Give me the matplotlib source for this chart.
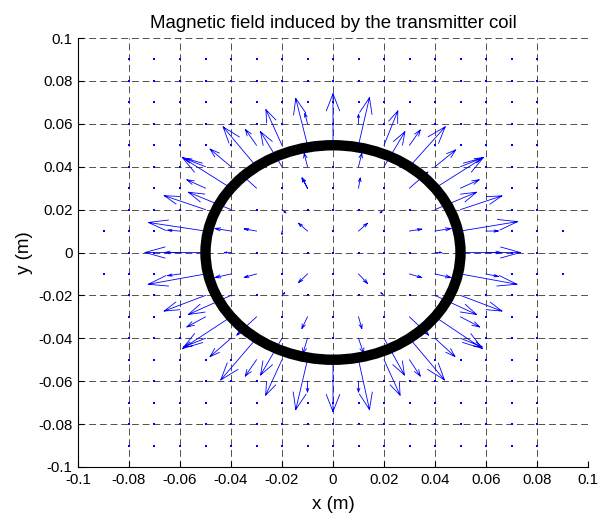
import numpy as np
import matplotlib
matplotlib.use("Agg")
import matplotlib.pyplot as plt
from matplotlib.patches import Circle

plt.rcParams['font.family'] = ['Liberation Sans', 'DejaVu Sans']

# field arrows: grid point and drawn displacement (m)
arrow_x = [0.00, -0.01, -0.01, -0.01, -0.01, -0.02, -0.02, -0.03, -0.03, -0.03,
           -0.04, -0.04, -0.04, -0.04, -0.04, -0.05, -0.05, -0.05, -0.05, -0.05,
           -0.06, -0.06, -0.03, -0.01, -0.01,
           0.01, 0.01, 0.01, 0.01, 0.02, 0.02, 0.03, 0.03, 0.03, 0.03,
           0.04, 0.04, 0.04, 0.04, 0.04, 0.05, 0.05, 0.05, 0.05, 0.05,
           0.06, 0.06, 0.01,
           -0.05, -0.06, -0.04, -0.03, -0.01, -0.04, -0.05, -0.05, -0.04, -0.03,
           -0.01, -0.05, -0.04, -0.03, -0.02, -0.01, -0.03, -0.02, -0.01, 0.00, -0.01,
           0.05, 0.06, 0.04, 0.03, 0.01, 0.04, 0.05, 0.04, 0.05, 0.03,
           0.01, 0.05, 0.03, 0.04, 0.02, 0.01, 0.01, 0.02, 0.03, 0.01,
           -0.02, -0.02, 0.02, -0.02, 0.02]
arrow_y = [0.05, 0.04, 0.05, 0.06, 0.03, 0.05, 0.04, 0.05, 0.03, 0.04,
           0.04, 0.03, 0.02, 0.01, 0.00, 0.03, 0.04, 0.02, 0.01, 0.00,
           0.01, 0.00, 0.01, 0.01, 0.03,
           0.05, 0.04, 0.06, 0.03, 0.04, 0.05, 0.04, 0.05, 0.03, 0.01,
           0.04, 0.03, 0.02, 0.01, 0.00, 0.04, 0.03, 0.02, 0.01, 0.00,
           0.01, 0.00, 0.01,
           -0.01, -0.01, -0.01, -0.01, -0.01, -0.02, -0.02, -0.03, -0.03, -0.03,
           -0.03, -0.04, -0.04, -0.04, -0.04, -0.04, -0.05, -0.05, -0.05, -0.05, -0.06,
           -0.01, -0.01, -0.01, -0.01, -0.01, -0.02, -0.02, -0.03, -0.03, -0.03,
           -0.03, -0.04, -0.04, -0.04, -0.04, -0.04, -0.05, -0.05, -0.05, -0.06,
           0.02, 0.01, 0.02, -0.02, -0.02]
arrow_u = [0.0000, -0.0013, -0.0046, -0.0010, -0.0021, -0.0063, -0.0084, -0.0043, -0.0065, -0.0131,
           -0.0082, -0.0191, -0.0167, -0.0063, -0.0026, -0.0073, -0.0086, -0.0162, -0.0224, -0.0237,
           -0.0048, -0.0059, -0.0048, -0.0035, -0.0021,
           0.0043, 0.0013, 0.0000, 0.0007, 0.0082, 0.0054, 0.0140, 0.0042, 0.0072, 0.0048,
           0.0081, 0.0190, 0.0163, 0.0063, 0.0026, 0.0088, 0.0073, 0.0162, 0.0224, 0.0235,
           0.0048, 0.0059, 0.0035,
           -0.0224, -0.0048, -0.0063, -0.0048, -0.0035, -0.0167, -0.0162, -0.0073, -0.0190, -0.0077,
           -0.0022, -0.0085, -0.0082, -0.0140, -0.0084, -0.0018, -0.0044, -0.0064, -0.0046, 0.0000, 0.0000,
           0.0221, 0.0048, 0.0063, 0.0048, 0.0035, 0.0163, 0.0162, 0.0186, 0.0075, 0.0075,
           0.0013, 0.0085, 0.0137, 0.0078, 0.0080, 0.0020, 0.0043, 0.0063, 0.0042, 0.0000,
           0.0015, 0.0000, -0.0015, 0.0010, -0.0012]
arrow_v = [0.0240, 0.0062, 0.0218, 0.0048, 0.0047, 0.0166, 0.0163, 0.0073, 0.0070, 0.0186,
           0.0082, 0.0143, 0.0081, 0.0012, 0.0000, 0.0039, 0.0040, 0.0065, 0.0040, 0.0000,
           0.0004, 0.0000, 0.0010, 0.0036, 0.0047,
           0.0222, 0.0062, 0.0044, 0.0047, 0.0163, 0.0160, 0.0186, 0.0071, 0.0075, 0.0009,
           0.0078, 0.0143, 0.0081, 0.0012, 0.0000, 0.0042, 0.0039, 0.0064, 0.0044, 0.0000,
           0.0000, 0.0000, 0.0036,
           -0.0048, -0.0008, -0.0017, -0.0016, -0.0040, -0.0089, -0.0073, -0.0047, -0.0148, -0.0085,
           -0.0054, -0.0040, -0.0085, -0.0194, -0.0171, -0.0070, -0.0076, -0.0165, -0.0232, -0.0242, -0.0050,
           -0.0048, -0.0012, -0.0017, -0.0017, -0.0044, -0.0089, -0.0073, -0.0148, -0.0047, -0.0085,
           -0.0054, -0.0040, -0.0194, -0.0085, -0.0171, -0.0070, -0.0232, -0.0165, -0.0076, -0.0050,
           -0.0015, -0.0015, -0.0015, 0.0012, 0.0012]

coil_radius = 0.05
tick_vals = [-0.1, -0.08, -0.06, -0.04, -0.02, 0, 0.02, 0.04, 0.06, 0.08, 0.1]
tick_labels = ['-0.1', '-0.08', '-0.06', '-0.04', '-0.02', '0', '0.02', '0.04', '0.06', '0.08', '0.1']

fig = plt.figure(figsize=(6.02, 5.19), dpi=100)
ax = fig.add_axes([78 / 602, 1 - 467 / 519, 510 / 602, 429 / 519])

# matlab-like quiver: shaft plus two open head strokes
ax_ = np.array(arrow_x); ay = np.array(arrow_y)
au = np.array(arrow_u); av = np.array(arrow_v)
alpha, beta = 0.33, 0.33
tx, ty = ax_ + au, ay + av
xs, ys = [], []
for i in range(len(ax_)):
    xs += [ax_[i], tx[i], np.nan,
           tx[i] - alpha * (au[i] + beta * av[i]), tx[i], tx[i] - alpha * (au[i] - beta * av[i]), np.nan]
    ys += [ay[i], ty[i], np.nan,
           ty[i] - alpha * (av[i] - beta * au[i]), ty[i], ty[i] - alpha * (av[i] + beta * au[i]), np.nan]
ax.plot(xs, ys, color='blue', lw=0.6, zorder=3)

# near-zero field samples just show up as dots
grid = np.round(np.arange(-0.09, 0.0901, 0.01), 2)
taken = set(zip(np.round(ax_, 2), np.round(ay, 2)))
dx, dy = [], []
for gx in grid:
    for gy in grid:
        if (gx, gy) in taken:
            continue
        if abs(gx) <= 0.08 or abs(gy) == 0.01:
            dx.append(gx); dy.append(gy)
ax.scatter(dx, dy, s=1.0, marker='s', color='blue', linewidths=0, zorder=3)

ax.add_patch(Circle((0, 0), coil_radius, fill=False, color='black', lw=7.5, zorder=4))

ax.set_xlim(-0.1, 0.1)
ax.set_ylim(-0.1, 0.1)
ax.set_xticks(tick_vals)
ax.set_xticklabels(tick_labels)
ax.set_yticks(tick_vals)
ax.set_yticklabels(tick_labels)
ax.tick_params(direction='in', length=4, width=0.8, labelsize=10.8, pad=4)
ax.grid(True, color='#222222', lw=0.55, linestyle=(0, (9, 5)))
ax.set_axisbelow(True)
ax.spines['top'].set_visible(False)
ax.spines['right'].set_visible(False)

ax.set_title("Magnetic field induced by the transmitter coil", fontsize=13.4, pad=7)
ax.set_xlabel("x (m)", fontsize=13.5, labelpad=7)
ax.set_ylabel("y (m)", fontsize=13.5, labelpad=4)

fig.savefig("out.png", dpi=100)
